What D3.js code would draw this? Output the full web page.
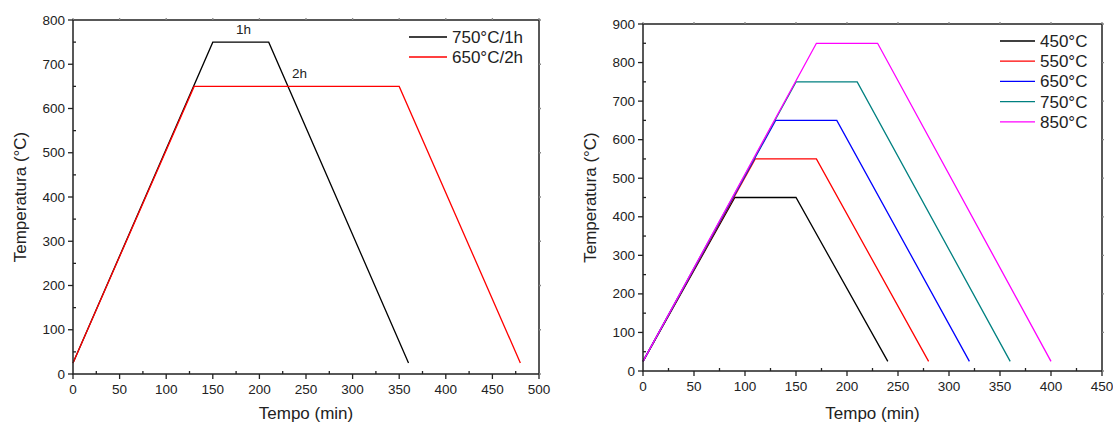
<!DOCTYPE html>
<html>
<head>
<meta charset="utf-8">
<script src="https://cdn.jsdelivr.net/npm/d3@7"></script>
<style>
body { margin:0; background:#fff; }
text { font-family: "Liberation Sans", Arial, sans-serif; fill:#222; }
</style>
</head>
<body>
<svg id="chart" width="1113" height="425"></svg>
<script>

// left panel data
var leftNames = ["750°C/1h", "650°C/2h"],
	leftColors = ["#000000", "#ff0000"],
	leftTimes = [[0, 150, 210, 360], [0, 130, 350, 480]],
	leftTemps = [[25, 750, 750, 25], [25, 650, 650, 25]],
	leftNotes = [{t: "1h", x: 183, y: 768}, {t: "2h", x: 243, y: 668}];

// right panel data
var rightNames = ["450°C", "550°C", "650°C", "750°C", "850°C"],
	rightColors = ["#000000", "#ff0000", "#0000ff", "#008080", "#ff00ff"],
	rightTimes = [
		[0, 90, 150, 240],
		[0, 110, 170, 280],
		[0, 130, 190, 320],
		[0, 150, 210, 360],
		[0, 170, 230, 400]
	],
	rightTemps = [
		[25, 450, 450, 25],
		[25, 550, 550, 25],
		[25, 650, 650, 25],
		[25, 750, 750, 25],
		[25, 850, 850, 25]
	];

var svg = d3.select("#chart");

function panel(o){
	var X = d3.scaleLinear().domain(o.xdom).range([o.x0, o.x1]);
	var Y = d3.scaleLinear().domain(o.ydom).range([o.y1, o.y0]);
	var g = svg.append("g");

	var xmaj = d3.range(o.xdom[0], o.xdom[1] + 1, o.xstep),
		xmin = d3.range(o.xdom[0] + o.xstep/2, o.xdom[1], o.xstep),
		ymaj = d3.range(o.ydom[0], o.ydom[1] + 1, o.ystep),
		ymin = d3.range(o.ydom[0] + o.ystep/2, o.ydom[1], o.ystep);

	// series
	var line = d3.line().x(function(d){return X(d[0])}).y(function(d){return Y(d[1])});
	o.times.forEach(function(ts, i){
		var pts = ts.map(function(t, j){ return [t, o.temps[i][j]]; });
		g.append("path").attr("d", line(pts))
			.attr("fill", "none").attr("stroke", o.colors[i]).attr("stroke-width", 1.3);
	});

	// frame
	g.append("rect").attr("x", o.x0).attr("y", o.y0)
		.attr("width", o.x1 - o.x0).attr("height", o.y1 - o.y0)
		.attr("fill", "none").attr("stroke", "#222").attr("stroke-width", 1.5);

	// bottom / left ticks: major out, minor in
	var tk = g.append("g").attr("stroke", "#222").attr("stroke-width", 1.3);
	xmaj.forEach(function(v){
		tk.append("line").attr("x1", X(v)).attr("x2", X(v)).attr("y1", o.y1).attr("y2", o.y1 + 5);
		tk.append("line").attr("x1", X(v)).attr("x2", X(v)).attr("y1", o.y0).attr("y2", o.y0 - 2).attr("stroke", "#888");
	});
	xmin.forEach(function(v){
		tk.append("line").attr("x1", X(v)).attr("x2", X(v)).attr("y1", o.y1).attr("y2", o.y1 - 3);
	});
	ymaj.forEach(function(v){
		tk.append("line").attr("x1", o.x0).attr("x2", o.x0 - 5).attr("y1", Y(v)).attr("y2", Y(v));
		tk.append("line").attr("x1", o.x1).attr("x2", o.x1 + 2).attr("y1", Y(v)).attr("y2", Y(v)).attr("stroke", "#888");
	});
	ymin.forEach(function(v){
		tk.append("line").attr("x1", o.x0).attr("x2", o.x0 + 3).attr("y1", Y(v)).attr("y2", Y(v));
	});

	// tick labels
	g.selectAll(".xl").data(xmaj).enter().append("text")
		.attr("x", function(d){return X(d)}).attr("y", o.y1 + 20)
		.attr("text-anchor", "middle").attr("font-size", 13.5).text(function(d){return d});
	g.selectAll(".yl").data(ymaj).enter().append("text")
		.attr("x", o.x0 - 8).attr("y", function(d){return Y(d) + 4.5})
		.attr("text-anchor", "end").attr("font-size", 13.5).text(function(d){return d});

	// axis titles
	g.append("text").attr("x", (o.x0 + o.x1)/2).attr("y", Math.min(o.y1 + 48, 419))
		.attr("text-anchor", "middle").attr("font-size", 17).text("Tempo (min)");
	g.append("text")
		.attr("transform", "translate(" + (o.x0 - 47) + "," + ((o.y0 + o.y1)/2) + ") rotate(-90)")
		.attr("text-anchor", "middle").attr("font-size", 17).text("Temperatura (°C)");

	// legend
	o.names.forEach(function(n, i){
		var ly = o.ly + i * o.lstep;
		g.append("line").attr("x1", o.lx).attr("x2", o.lx + o.llen).attr("y1", ly).attr("y2", ly)
			.attr("stroke", o.colors[i]).attr("stroke-width", 1.3);
		g.append("text").attr("x", o.lx + o.llen + 5).attr("y", ly + 6)
			.attr("font-size", 17).text(n);
	});

	// notes
	(o.notes || []).forEach(function(d){
		g.append("text").attr("x", X(d.x)).attr("y", Y(d.y))
			.attr("text-anchor", "middle").attr("font-size", 13.5).text(d.t);
	});
}

panel({
	x0: 73, x1: 539, y0: 20, y1: 374,
	xdom: [0, 500], ydom: [0, 800], xstep: 50, ystep: 100,
	times: leftTimes, temps: leftTemps, colors: leftColors, names: leftNames,
	lx: 409, ly: 37, lstep: 20, llen: 38, notes: leftNotes
});

panel({
	x0: 643, x1: 1102, y0: 24, y1: 371,
	xdom: [0, 450], ydom: [0, 900], xstep: 50, ystep: 100,
	times: rightTimes, temps: rightTemps, colors: rightColors, names: rightNames,
	lx: 1000, ly: 41, lstep: 20.2, llen: 35
});

</script>
</body>
</html>
